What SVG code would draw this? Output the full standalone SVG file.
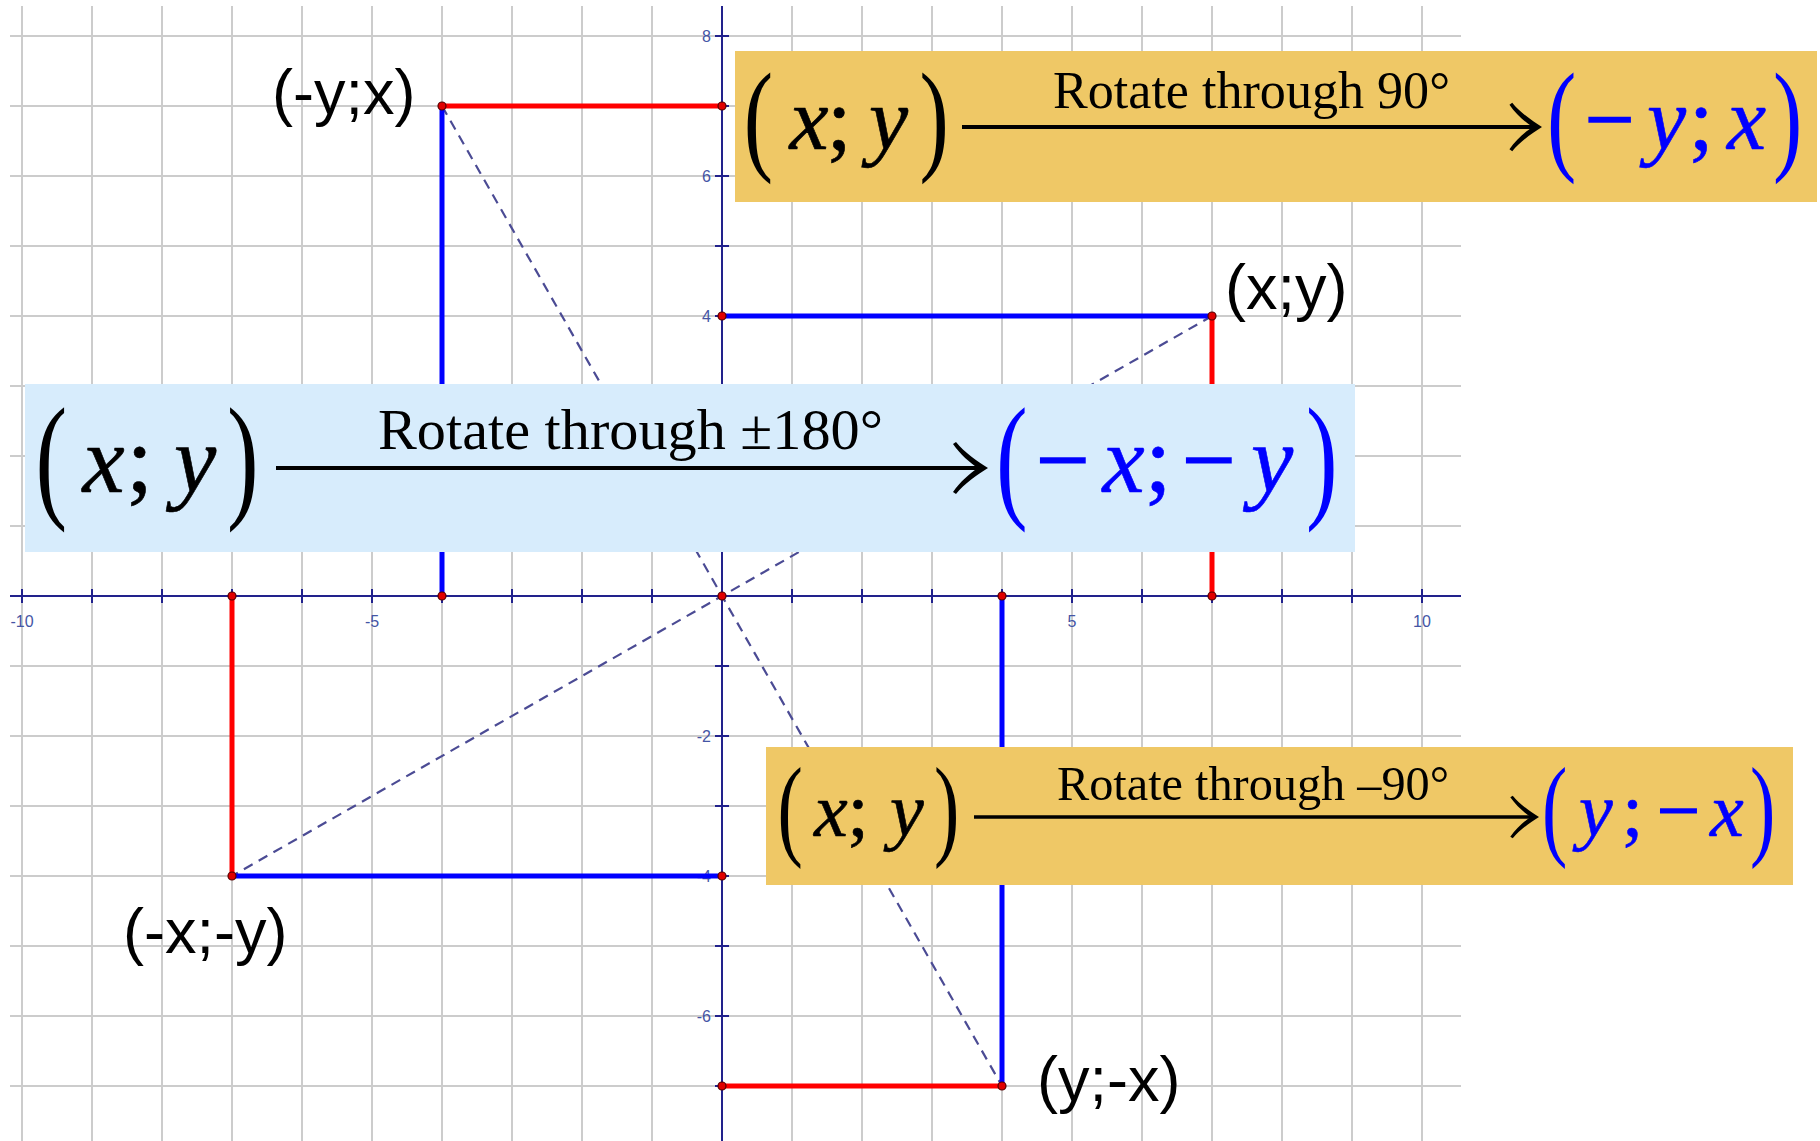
<svg xmlns="http://www.w3.org/2000/svg" width="1820" height="1141" viewBox="0 0 1820 1141">
<style>
.grid{stroke:#cccccc;stroke-width:2;fill:none}
.axis{stroke:#22228c;stroke-width:2;fill:none}
.num{font-family:"Liberation Sans",Arial,sans-serif;font-size:16px;fill:#4455a5}
.sr{stroke:#ff0000;stroke-width:5;stroke-linecap:butt}
.sb{stroke:#0000ff;stroke-width:5;stroke-linecap:butt}
.dash{stroke:#4b4b94;stroke-width:2.2;stroke-dasharray:10 7;fill:none}
.pt{fill:#e00000;stroke:#550000;stroke-width:1.2}
.lbl{font-family:"Liberation Sans",Arial,sans-serif;font-size:63px;fill:#000}
.m{font-family:"Liberation Serif","Times New Roman",serif}
.it{font-style:italic}
.g{stroke-width:0.6}
.mn{stroke-width:1.6}
.k{fill:#000;stroke:#000;stroke-width:0}
.bl{fill:#0000ff;stroke:#0000ff;stroke-width:0}
.shaft{stroke:#000;stroke-width:4}
.orange{fill:#efc866}
.sky{fill:#d7ecfc}
</style>
<defs>
<path id="ah" d="M0,0 C-10,-6 -24,-16 -32,-26 L-35,-24 C-28,-14 -18,-5 -10,0 C-18,5 -28,14 -35,24 L-32,26 C-24,16 -10,6 0,0 Z" fill="#000"/>
</defs>

<g id="grid">
<path class="grid" d="M22 6V1141M92 6V1141M162 6V1141M232 6V1141M302 6V1141M372 6V1141M442 6V1141M512 6V1141M582 6V1141M652 6V1141M792 6V1141M862 6V1141M932 6V1141M1002 6V1141M1072 6V1141M1142 6V1141M1212 6V1141M1282 6V1141M1352 6V1141M1422 6V1141"/>
<path class="grid" d="M10 36H1461M10 106H1461M10 176H1461M10 246H1461M10 316H1461M10 386H1461M10 456H1461M10 526H1461M10 666H1461M10 736H1461M10 806H1461M10 876H1461M10 946H1461M10 1016H1461M10 1086H1461"/>
</g>

<g id="axes">
<path class="axis" d="M10 596H1461M722 6V1141"/>
<path class="axis" d="M22 589v14M92 589v14M162 589v14M232 589v14M302 589v14M372 589v14M442 589v14M512 589v14M582 589v14M652 589v14M792 589v14M862 589v14M932 589v14M1002 589v14M1072 589v14M1142 589v14M1212 589v14M1282 589v14M1352 589v14M1422 589v14"/>
<path class="axis" d="M715 36h14M715 106h14M715 176h14M715 246h14M715 316h14M715 386h14M715 456h14M715 526h14M715 666h14M715 736h14M715 806h14M715 876h14M715 946h14M715 1016h14M715 1086h14"/>
<text class="num" x="22" y="627" text-anchor="middle">-10</text>
<text class="num" x="372" y="627" text-anchor="middle">-5</text>
<text class="num" x="1072" y="627" text-anchor="middle">5</text>
<text class="num" x="1422" y="627" text-anchor="middle">10</text>
<text class="num" x="711" y="42" text-anchor="end">8</text>
<text class="num" x="711" y="182" text-anchor="end">6</text>
<text class="num" x="711" y="322" text-anchor="end">4</text>
<text class="num" x="711" y="742" text-anchor="end">-2</text>
<text class="num" x="711" y="882" text-anchor="end">-4</text>
<text class="num" x="711" y="1022" text-anchor="end">-6</text>
</g>

<g id="connectors">
<line class="dash" x1="1212" y1="316" x2="232" y2="876"/>
<line class="dash" x1="442" y1="106" x2="1002" y2="1086"/>
<line class="sr" x1="442" y1="106" x2="722" y2="106"/>
<line class="sb" x1="442" y1="106" x2="442" y2="596"/>
<line class="sb" x1="722" y1="316" x2="1212" y2="316"/>
<line class="sr" x1="1212" y1="316" x2="1212" y2="596"/>
<line class="sr" x1="232" y1="596" x2="232" y2="876"/>
<line class="sb" x1="232" y1="876" x2="722" y2="876"/>
<line class="sb" x1="1002" y1="596" x2="1002" y2="1086"/>
<line class="sr" x1="722" y1="1086" x2="1002" y2="1086"/>
</g>

<g id="points">
<circle class="pt" cx="442" cy="106" r="4"/>
<circle class="pt" cx="722" cy="106" r="4"/>
<circle class="pt" cx="722" cy="316" r="4"/>
<circle class="pt" cx="1212" cy="316" r="4"/>
<circle class="pt" cx="1212" cy="596" r="4"/>
<circle class="pt" cx="442" cy="596" r="4"/>
<circle class="pt" cx="232" cy="596" r="4"/>
<circle class="pt" cx="232" cy="876" r="4"/>
<circle class="pt" cx="722" cy="876" r="4"/>
<circle class="pt" cx="722" cy="596" r="4"/>
<circle class="pt" cx="1002" cy="596" r="4"/>
<circle class="pt" cx="1002" cy="1086" r="4"/>
<circle class="pt" cx="722" cy="1086" r="4"/>
</g>

<g id="label-xy"><text class="lbl" x="1225" y="309">(x;y)</text></g>
<g id="label-myx"><text class="lbl" x="272" y="114">(-y;x)</text></g>
<g id="label-mxmy"><text class="lbl" x="123" y="953">(-x;-y)</text></g>
<g id="label-ymx"><text class="lbl" x="1037" y="1101">(y;-x)</text></g>

<g id="box-rot90">
<rect class="orange" x="735" y="51" width="1082" height="151"/>
<g class="m k" font-size="88">
<text transform="translate(743.8,127.5) scale(1,1.399)" x="0" y="22">(</text>
<text class="it g" x="789.4" y="149">x</text>
<text class="g" x="827" y="149">;</text>
<text class="it g" x="869" y="149">y</text>
<text transform="translate(919.5,127.5) scale(1,1.399)" x="0" y="22">)</text>
</g>
<line class="shaft" x1="962" y1="127" x2="1534" y2="127"/>
<use href="#ah" transform="translate(1542,127) scale(0.93)"/>
<text class="m k" x="1053" y="108" font-size="52" textLength="397" lengthAdjust="spacingAndGlyphs">Rotate through 90°</text>
<g class="m bl" font-size="88">
<text transform="translate(1547,127.5) scale(1,1.399)" x="0" y="22">(</text>
<text class="mn" x="1585" y="149">−</text>
<text class="it g" x="1647" y="149">y</text>
<text class="g" x="1689" y="149">;</text>
<text class="it g" x="1727" y="149">x</text>
<text transform="translate(1773,127.5) scale(1,1.399)" x="0" y="22">)</text>
</g>
</g>

<g id="box-rot180">
<rect class="sky" x="25" y="384" width="1330" height="168"/>
<g class="m k" font-size="95">
<text transform="translate(35.4,468) scale(1,1.456)" x="0" y="23.7">(</text>
<text class="it g" x="82.6" y="492">x</text>
<text class="g" x="126.4" y="492">;</text>
<text class="it g" x="174" y="492">y</text>
<text transform="translate(227,468) scale(1,1.456)" x="0" y="23.7">)</text>
</g>
<line class="shaft" x1="276" y1="468" x2="980" y2="468"/>
<use href="#ah" transform="translate(988,468)"/>
<text class="m k" x="378" y="449" font-size="58" textLength="505" lengthAdjust="spacingAndGlyphs">Rotate through ±180°</text>
<g class="m bl" font-size="95">
<text transform="translate(996,468) scale(1,1.456)" x="0" y="23.7">(</text>
<text class="mn" x="1036" y="492">−</text>
<text class="it g" x="1102.6" y="492">x</text>
<text class="g" x="1145" y="492">;</text>
<text class="mn" x="1182" y="492">−</text>
<text class="it g" x="1251" y="492">y</text>
<text transform="translate(1306,468) scale(1,1.456)" x="0" y="23.7">)</text>
</g>
</g>

<g id="box-rotm90">
<rect class="orange" x="766" y="747" width="1027" height="138"/>
<g class="m k" font-size="76">
<text transform="translate(777.4,817) scale(1,1.48)" x="0" y="19">(</text>
<text class="it g" x="814" y="836">x</text>
<text class="g" x="847.5" y="836">;</text>
<text class="it g" x="890" y="836">y</text>
<text transform="translate(934,817) scale(1,1.48)" x="0" y="19">)</text>
</g>
<line class="shaft" x1="974" y1="817" x2="1532" y2="817" style="stroke-width:3.5"/>
<use href="#ah" transform="translate(1539,817) scale(0.82)"/>
<text class="m k" x="1057" y="800" font-size="48" textLength="392" lengthAdjust="spacingAndGlyphs">Rotate through –90°</text>
<g class="m bl" font-size="76">
<text transform="translate(1542,817) scale(1,1.48)" x="0" y="19">(</text>
<text class="it g" x="1579" y="836">y</text>
<text class="g" x="1622" y="836">;</text>
<text class="mn" x="1657" y="836">−</text>
<text class="it g" x="1710" y="836">x</text>
<text transform="translate(1750,817) scale(1,1.48)" x="0" y="19">)</text>
</g>
</g>
</svg>
